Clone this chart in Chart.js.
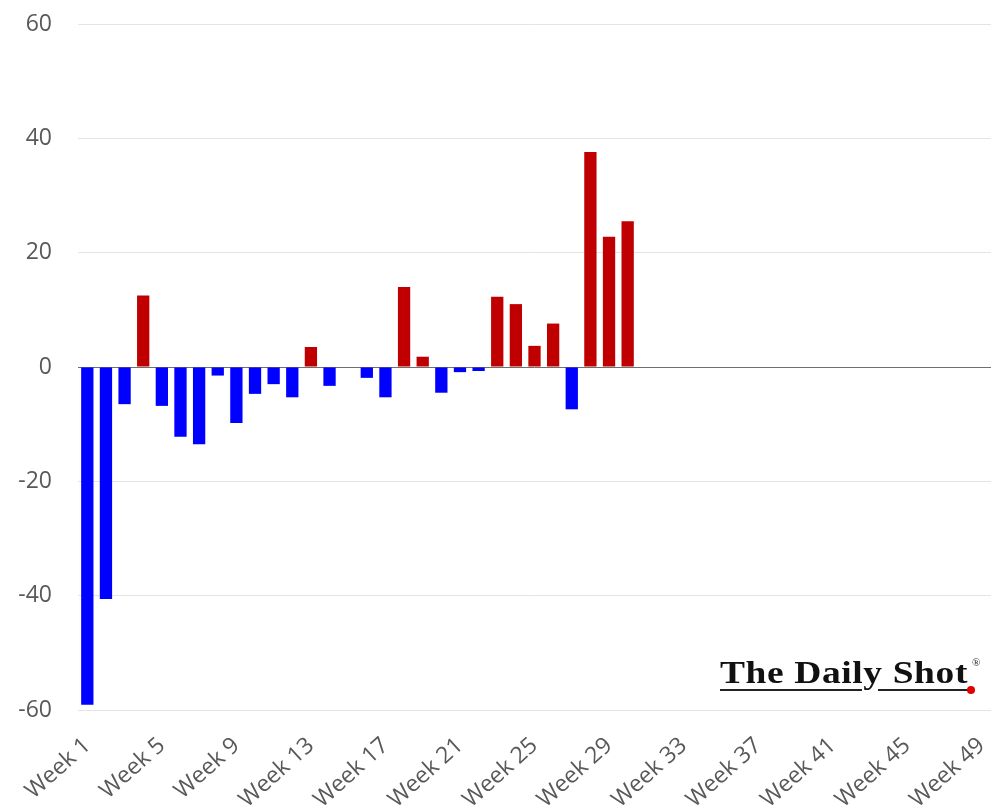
<!DOCTYPE html>
<html>
<head>
<meta charset="utf-8">
<title>Weekly change</title>
<script src="https://cdn.jsdelivr.net/npm/chart.js@4/dist/chart.umd.min.js"></script>
<style>
  html, body { margin: 0; padding: 0; background: #ffffff; }
  #wrap { width: 991px; height: 808px; position: relative; }
  canvas { display: block; }
</style>
</head>
<body>
<div id="wrap"><canvas id="chart" width="991" height="808"></canvas></div>
<script>
// Categories: Week 1 .. Week 49
const weeks = Array.from({ length: 49 }, (_, i) => 'Week ' + (i + 1));

// Weekly values (weeks without data are null)
const values = [
  -59.1, -40.6, -6.5, 12.5, -6.8, -12.2, -13.5, -1.5, -9.8, -4.7,
  -3.0, -5.3, 3.5, -3.3, null, -1.9, -5.3, 14.0, 1.8, -4.5,
  -0.9, -0.7, 12.3, 11.0, 3.7, 7.6, -7.4, 37.6, 22.8, 25.5,
  null, null, null, null, null, null, null, null, null, null,
  null, null, null, null, null, null, null, null, null
];

// Labels shown on the category axis
const tickWeeks = ['Week 1', 'Week 5', 'Week 9', 'Week 13', 'Week 17', 'Week 21',
  'Week 25', 'Week 29', 'Week 33', 'Week 37', 'Week 41', 'Week 45', 'Week 49'];

// Value axis ticks
const yTicks = [-60, -40, -20, 0, 20, 40, 60];

const POS_COLOR = '#c00000';
const NEG_COLOR = '#0000ff';
const TEXT_COLOR = '#595959';

// Brand mark in the lower right corner
const brandMark = {
  id: 'brandMark',
  afterDraw(chart) {
    const ctx = chart.ctx;
    const text = 'The Daily Shot';
    const left = 720, right = 968, baseline = 683;
    ctx.save();
    ctx.font = 'bold 31px "Liberation Serif", "DejaVu Serif", serif';
    ctx.letterSpacing = '0.5px';
    const w = ctx.measureText(text).width;
    const sx = (right - left) / w;
    ctx.translate(left, baseline);
    ctx.scale(sx, 1);
    ctx.fillStyle = '#111111';
    ctx.textBaseline = 'alphabetic';
    ctx.textAlign = 'left';
    ctx.fillText(text, 0, 0);
    ctx.restore();

    // underline in two pieces around the descender of "y"
    ctx.save();
    ctx.strokeStyle = '#222222';
    ctx.lineWidth = 2;
    ctx.beginPath();
    ctx.moveTo(720, 690); ctx.lineTo(862, 690);
    ctx.moveTo(878, 690); ctx.lineTo(968, 690);
    ctx.stroke();
    ctx.fillStyle = '#e00000';
    ctx.beginPath();
    ctx.arc(971, 690, 4, 0, Math.PI * 2);
    ctx.fill();
    ctx.fillStyle = '#222222';
    ctx.font = '11px "Liberation Serif", serif';
    ctx.fillText('®', 972, 666);
    ctx.restore();
  }
};

function build() {
  new Chart(document.getElementById('chart'), {
    type: 'bar',
    data: {
      labels: weeks,
      datasets: [{
        data: values,
        backgroundColor: (c) => (c.raw >= 0 ? POS_COLOR : NEG_COLOR),
        barPercentage: 0.66,
        categoryPercentage: 1.0,
        borderWidth: 0
      }]
    },
    options: {
      responsive: false,
      animation: false,
      devicePixelRatio: 1,
      layout: { padding: { top: 24, right: 0, bottom: 0, left: 0 } },
      plugins: {
        legend: { display: false },
        tooltip: { enabled: false }
      },
      scales: {
        x: {
          grid: { display: false },
          border: { display: false },
          afterFit: (scale) => {
            scale.height = 98;
            scale.paddingLeft = 0;
            scale.paddingRight = 0;
          },
          ticks: {
            autoSkip: false,
            minRotation: 42,
            maxRotation: 42,
            padding: 14,
            color: TEXT_COLOR,
            font: { family: '"Open Sans"', size: 23 },
            callback: function (v, i) {
              const lab = weeks[i];
              return tickWeeks.includes(lab) ? lab : '';
            }
          }
        },
        y: {
          min: yTicks[0],
          max: yTicks[yTicks.length - 1],
          afterFit: (scale) => {
            scale.width = 78;
            scale.paddingTop = 0;
            scale.paddingBottom = 0;
          },
          afterBuildTicks: (scale) => { scale.ticks = yTicks.map(v => ({ value: v })); },
          border: { display: false },
          grid: {
            drawTicks: false,
            lineWidth: 1,
            color: (c) => (c.tick && c.tick.value === 0 ? '#6f6f6f' : '#e4e4e4')
          },
          ticks: {
            padding: 26,
            color: TEXT_COLOR,
            font: { family: '"Open Sans"', size: 23 }
          }
        }
      }
    },
    plugins: [brandMark]
  });
}

if (document.fonts && document.fonts.load) {
  Promise.all([
    document.fonts.load('23px "Open Sans"'),
    document.fonts.load('bold 31px "Liberation Serif"')
  ]).then(build, build);
} else {
  build();
}
</script>
</body>
</html>
